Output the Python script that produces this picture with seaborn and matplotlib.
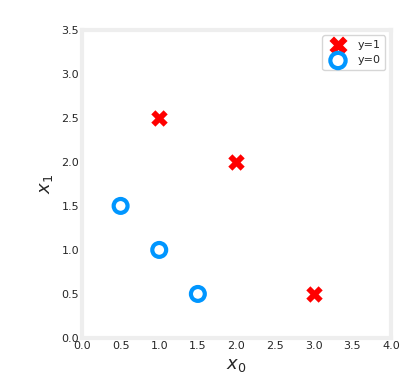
import matplotlib
matplotlib.use("Agg")
import matplotlib.pyplot as plt
import seaborn as sns
import pandas as pd

x0_pos = [1.0, 2.0, 3.0]
x1_pos = [2.5, 2.0, 0.5]
x0_neg = [0.5, 1.0, 1.5]
x1_neg = [1.5, 1.0, 0.5]

sns.set_style("white")
plt.rcParams['font.family'] = ['DejaVu Sans']

fig = plt.figure(figsize=(4.12, 3.88), dpi=100)
ax = fig.add_axes([0.199, 0.129, 0.750, 0.794])

pos = pd.DataFrame({"x0": x0_pos, "x1": x1_pos})
neg = pd.DataFrame({"x0": x0_neg, "x1": x1_neg})

sns.scatterplot(data=pos, x="x0", y="x1", marker="X", s=140, color="red",
                linewidth=0, label="y=1", ax=ax)
ax.scatter(neg["x0"], neg["x1"], marker="o", s=100, facecolors="none",
           edgecolors="#0096ff", linewidths=3, label="y=0")

ax.set_xlim(0, 4)
ax.set_ylim(0, 3.5)
ax.set_xticks([0, 0.5, 1, 1.5, 2, 2.5, 3, 3.5, 4])
ax.set_yticks([0, 0.5, 1, 1.5, 2, 2.5, 3, 3.5])
ax.tick_params(length=0, labelsize=8, pad=2)
ax.set_xlabel("$x_0$", fontsize=13, labelpad=4)
ax.set_ylabel("$x_1$", fontsize=13, labelpad=5)
for s in ax.spines.values():
    s.set_color("#eeeeee")
    s.set_linewidth(3)
ax.legend(loc="upper right", fontsize=8, handletextpad=0.8, borderpad=0.4,
          labelspacing=0.5, markerscale=1.1)
fig.savefig("out.png", dpi=100)
